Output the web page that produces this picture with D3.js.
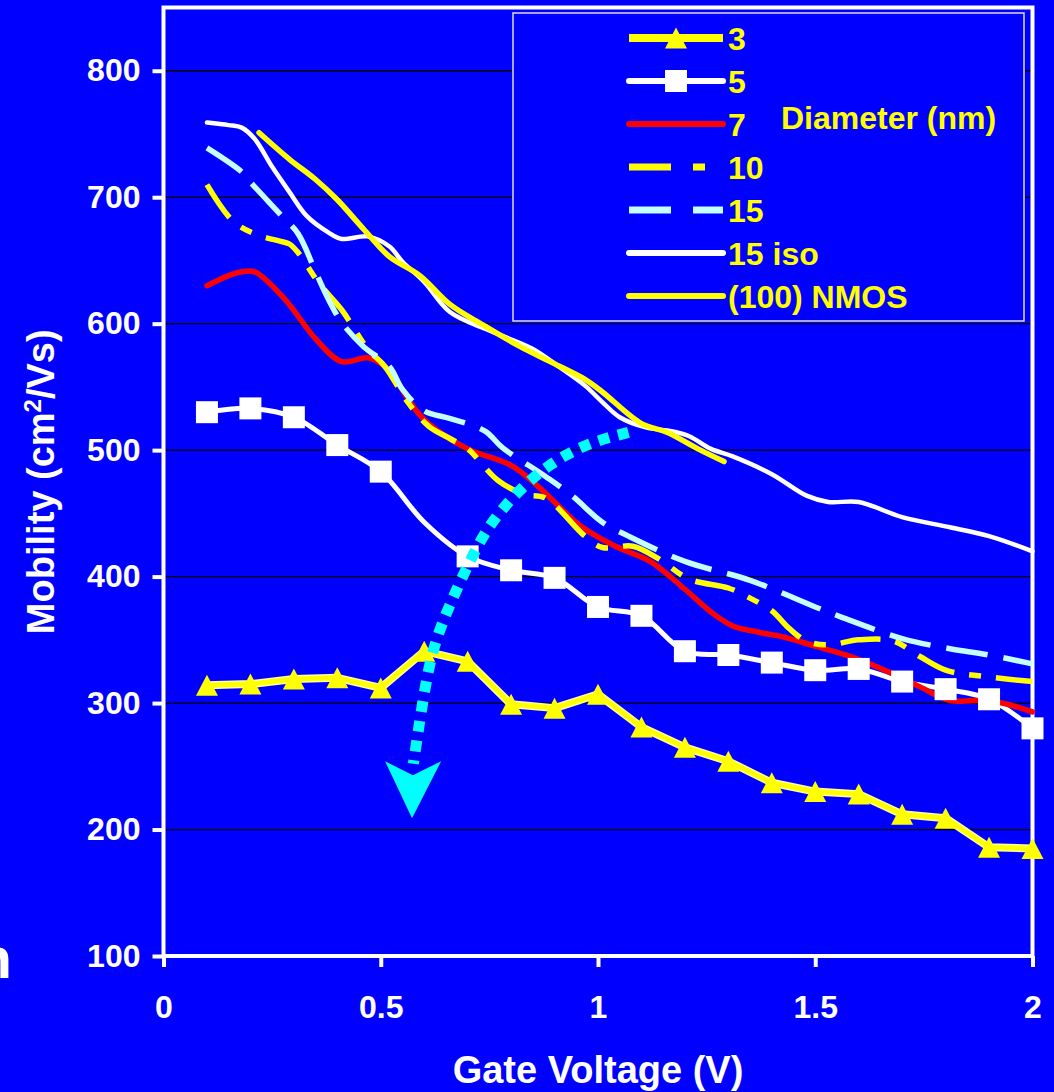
<!DOCTYPE html>
<html>
<head>
<meta charset="utf-8">
<script src="https://cdn.jsdelivr.net/npm/d3@7"></script>
<style>
  html, body { margin: 0; padding: 0; background: #0000ff; }
  svg { display: block; }
  text { font-family: "Liberation Sans", Arial, Helvetica, sans-serif; font-weight: bold; }
</style>
</head>
<body>
<script>
// ---- data: mobility (cm^2/Vs) vs gate voltage (V) for several nanowire diameters ----
const gateV   = [0.1, 0.2, 0.3, 0.4, 0.5, 0.6, 0.7, 0.8, 0.9, 1.0, 1.1, 1.2, 1.3, 1.4, 1.5, 1.6, 1.7, 1.8, 1.9, 2.0];
const mob3nm  = [314, 315, 319, 320, 312, 341, 333, 299, 296, 307, 281, 265, 254, 237, 230, 228, 212, 209, 186, 185];
const mob5nm  = [530, 533, 526, 504, 483, 443, 416, 405, 399, 376, 369, 341, 338, 332, 326, 327, 317, 311, 303, 280];
const mob5nmNoMarker = [0.6];

const mob7nm = [[0.10,630],[0.15,638],[0.18,641],[0.21,641],[0.28,619],[0.35,588],[0.41,570],[0.47,573],[0.51,566],
  [0.58,532],[0.61,521],[0.70,501],[0.80,488],[0.86,472],[0.96,440],[1.04,424],[1.12,412],[1.20,390],[1.26,372],
  [1.31,361],[1.37,356],[1.43,352],[1.50,345],[1.58,337],[1.66,326],[1.74,313],[1.81,302],[1.87,302],[1.93,300],[2.00,293]];

const mob10nm = [[0.10,710],[0.16,681],[0.21,671],[0.27,665],[0.29,663],[0.31,656],[0.36,631],[0.41,611],[0.47,580],
  [0.51,566],[0.56,539],[0.61,519],[0.66,509],[0.70,501],[0.77,476],[0.83,465],[0.88,462],[0.97,432],[1.01,423],
  [1.08,424],[1.14,414],[1.21,398],[1.30,391],[1.35,383],[1.40,373],[1.44,359],[1.48,349],[1.53,346],[1.60,350],
  [1.68,349],[1.74,337],[1.80,326],[1.89,321],[2.00,317]];

const mob15nm = [[0.10,739],[0.18,720],[0.20,712],[0.27,686],[0.31,671],[0.35,641],[0.38,619],[0.41,601],[0.46,582],
  [0.52,566],[0.55,548],[0.60,531],[0.66,525],[0.74,515],[0.78,502],[0.88,479],[0.94,464],[1.01,443],[1.07,432],
  [1.20,412],[1.35,397],[1.50,376],[1.56,368],[1.70,351],[1.81,343],[1.90,338],[2.00,331]];

const mob15iso = [[0.10,759],[0.15,757],[0.18,755],[0.21,746],[0.25,724],[0.29,704],[0.33,685],[0.38,672],[0.41,667],
  [0.47,669],[0.52,661],[0.55,649],[0.60,633],[0.66,609],[0.74,596],[0.79,589],[0.85,580],[0.91,566],[0.97,551],
  [1.01,538],[1.05,526],[1.11,518],[1.17,515],[1.21,511],[1.26,501],[1.31,495],[1.40,481],[1.48,464],[1.53,459],
  [1.60,459],[1.70,447],[1.81,439],[1.90,432],[2.00,420]];

const mobNmos100 = [[0.22,751],[0.29,730],[0.35,714],[0.40,698],[0.46,675],[0.52,653],[0.59,638],[0.66,615],[0.74,598],
  [0.82,582],[0.89,570],[0.97,556],[1.01,546],[1.10,521],[1.16,514],[1.23,501],[1.29,491]];

// trend arrow (gate voltage, mobility) and its head
const trendPath = [[1.07,514],[0.98,506],[0.89,490],[0.81,466],[0.745,439],[0.70,409],[0.655,375],[0.62,344],[0.60,309],[0.585,275],[0.575,252]];
const trendHead = [[0.572,209],[0.51,254],[0.574,243],[0.639,254]];

// axes and legend text
const yTicks = [100, 200, 300, 400, 500, 600, 700, 800];
const yGrid  = [200, 300, 400, 500, 600, 700, 800];
const xTicks = [0, 0.5, 1, 1.5, 2];
const xTickLabels = ["0", "0.5", "1", "1.5", "2"];
const legendLabels = ["3", "5", "7", "10", "15", "15 iso", "(100) NMOS"];
const legendTitle = "Diameter (nm)";
const xTitle = "Gate Voltage (V)";

// ---- drawing ----
const W = 1054, H = 1092;
const BLUE = "#0000ff", YELLOW = "#ffff00", RED = "#ff0000", WHITE = "#ffffff", PALE = "#c4ffff", CYAN = "#00ffff";

const svg = d3.select("body").append("svg").attr("width", W).attr("height", H);
svg.append("rect").attr("width", W).attr("height", H).attr("fill", BLUE);

const x = d3.scaleLinear().domain([0, 2]).range([163.5, 1032.5]);
const y = d3.scaleLinear().domain([100, 850]).range([956, 7.5]);

// gridlines
svg.append("g").selectAll("line").data(yGrid).join("line")
  .attr("x1", x(0)).attr("x2", x(2))
  .attr("y1", d => y(d)).attr("y2", d => y(d))
  .attr("stroke", "#000").attr("stroke-width", 1.3);

// plot frame
svg.append("rect")
  .attr("x", x(0)).attr("y", y(850))
  .attr("width", x(2) - x(0)).attr("height", y(100) - y(850))
  .attr("fill", "none").attr("stroke", WHITE).attr("stroke-width", 4);

// y axis
const yAxis = svg.append("g").attr("transform", `translate(${x(0)},0)`)
  .call(d3.axisLeft(y).tickValues(yTicks).tickSize(11).tickPadding(12).tickFormat(d3.format("d")));
yAxis.select(".domain").remove();
yAxis.selectAll("line").attr("stroke", WHITE).attr("stroke-width", 4);
yAxis.selectAll("text").attr("fill", WHITE).style("font-size", "32px")
  .style("font-family", "'Liberation Sans', Arial, sans-serif").style("font-weight", "bold");

// x axis
const xAxis = svg.append("g").attr("transform", `translate(0,${y(100)})`)
  .call(d3.axisBottom(x).tickValues(xTicks).tickSize(11).tickPadding(28).tickFormat((d, i) => xTickLabels[i]));
xAxis.select(".domain").remove();
xAxis.selectAll("line").attr("stroke", WHITE).attr("stroke-width", 4);
xAxis.selectAll("text").attr("fill", WHITE).style("font-size", "32px")
  .style("font-family", "'Liberation Sans', Arial, sans-serif").style("font-weight", "bold");

// axis titles
svg.append("text").attr("x", (x(0) + x(2)) / 2).attr("y", 1083)
  .attr("text-anchor", "middle").attr("fill", WHITE).style("font-size", "38px").text(xTitle);

const yt = svg.append("text")
  .attr("transform", `translate(54,${(y(100) + y(850)) / 2}) rotate(-90)`)
  .attr("text-anchor", "middle").attr("fill", WHITE).style("font-size", "38px");
yt.append("tspan").text("Mobility (cm");
yt.append("tspan").attr("baseline-shift", "super").style("font-size", "24px").text("2");
yt.append("tspan").text("/Vs)");

// stray glyph at the left edge
svg.append("text").attr("x", 12).attr("y", 978).attr("text-anchor", "end")
  .attr("fill", WHITE).style("font-size", "58px").text("n");

// ---- series lines ----
const straight = d3.line().x(d => x(d[0])).y(d => y(d[1]));
const smooth = d3.line().x(d => x(d[0])).y(d => y(d[1])).curve(d3.curveCatmullRom.alpha(0.5));

const pts3 = gateV.map((v, i) => [v, mob3nm[i]]);
const pts5 = gateV.map((v, i) => [v, mob5nm[i]]);

const lines = svg.append("g").attr("fill", "none");
lines.append("path").attr("d", straight(pts3)).attr("stroke", "#ffff9a").attr("stroke-width", 8).attr("stroke-linejoin", "round");
lines.append("path").attr("d", straight(pts3)).attr("stroke", YELLOW).attr("stroke-width", 5).attr("stroke-linejoin", "round");
lines.append("path").attr("d", smooth(pts5)).attr("stroke", WHITE).attr("stroke-width", 5).attr("stroke-linejoin", "round");
lines.append("path").attr("d", smooth(mob7nm)).attr("stroke", RED).attr("stroke-width", 5.5).attr("stroke-linecap", "round").attr("stroke-linejoin", "round");
lines.append("path").attr("d", smooth(mob10nm)).attr("stroke", YELLOW).attr("stroke-width", 5.5).attr("stroke-dasharray", "40,15,12,15");
lines.append("path").attr("d", smooth(mob15nm)).attr("stroke", PALE).attr("stroke-width", 5.5).attr("stroke-dasharray", "42,16");
lines.append("path").attr("d", smooth(mob15iso)).attr("stroke", WHITE).attr("stroke-width", 4.5).attr("stroke-linecap", "round").attr("stroke-linejoin", "round");
lines.append("path").attr("d", smooth(mobNmos100)).attr("stroke", YELLOW).attr("stroke-width", 5.5).attr("stroke-linecap", "round").attr("stroke-linejoin", "round");

// ---- markers ----
const tri = "M0,-10.5L11,10.5L-11,10.5Z";
const SQ = 22;
svg.append("g").selectAll("path").data(pts3).join("path")
  .attr("d", tri).attr("transform", d => `translate(${x(d[0])},${y(d[1])})`).attr("fill", YELLOW);
svg.append("g").selectAll("rect").data(pts5.filter(d => !mob5nmNoMarker.includes(d[0]))).join("rect")
  .attr("x", d => x(d[0]) - SQ / 2).attr("y", d => y(d[1]) - SQ / 2)
  .attr("width", SQ).attr("height", SQ).attr("fill", WHITE);

// ---- trend arrow ----
svg.append("path").attr("d", d3.line().x(d => x(d[0])).y(d => y(d[1])).curve(d3.curveBasis)(trendPath))
  .attr("fill", "none").attr("stroke", CYAN).attr("stroke-width", 11).attr("stroke-dasharray", "11,9");
svg.append("path").attr("d", d3.line().x(d => x(d[0])).y(d => y(d[1]))(trendHead) + "Z").attr("fill", CYAN);

// ---- legend ----
const lg = svg.append("g");
lg.append("rect").attr("x", 513).attr("y", 13).attr("width", 511).attr("height", 308)
  .attr("fill", BLUE).attr("stroke", "#dcdcff").attr("stroke-width", 1.5);

const rowY = i => 38 + 43 * i;
const lx1 = 629, lx2 = 723, lxm = (629 + 723) / 2;
const legendStyles = [
  { stroke: YELLOW, width: 8, dash: null, cap: "butt" },
  { stroke: WHITE, width: 6, dash: null, cap: "round" },
  { stroke: RED, width: 6, dash: null, cap: "round" },
  { stroke: YELLOW, width: 7, dash: "42,22,12,22", cap: "butt" },
  { stroke: PALE, width: 7, dash: "42,22", cap: "butt" },
  { stroke: WHITE, width: 6, dash: null, cap: "round" },
  { stroke: YELLOW, width: 6, dash: null, cap: "round" }
];
legendLabels.forEach((lab, i) => {
  const s = legendStyles[i];
  const ln = lg.append("line").attr("x1", lx1).attr("x2", lx2).attr("y1", rowY(i)).attr("y2", rowY(i))
    .attr("stroke", s.stroke).attr("stroke-width", s.width).attr("stroke-linecap", s.cap);
  if (s.dash) ln.attr("stroke-dasharray", s.dash);
  lg.append("text").attr("x", 728).attr("y", rowY(i)).attr("dy", "0.36em")
    .attr("fill", YELLOW).style("font-size", "32px").text(lab);
});
lg.append("path").attr("d", tri).attr("transform", `translate(${lxm},${rowY(0)})`).attr("fill", YELLOW);
lg.append("rect").attr("x", lxm - SQ / 2).attr("y", rowY(1) - SQ / 2).attr("width", SQ).attr("height", SQ).attr("fill", WHITE);
lg.append("text").attr("x", 781).attr("y", 117).attr("dy", "0.36em")
  .attr("fill", YELLOW).style("font-size", "32px").text(legendTitle);
</script>
</body>
</html>
